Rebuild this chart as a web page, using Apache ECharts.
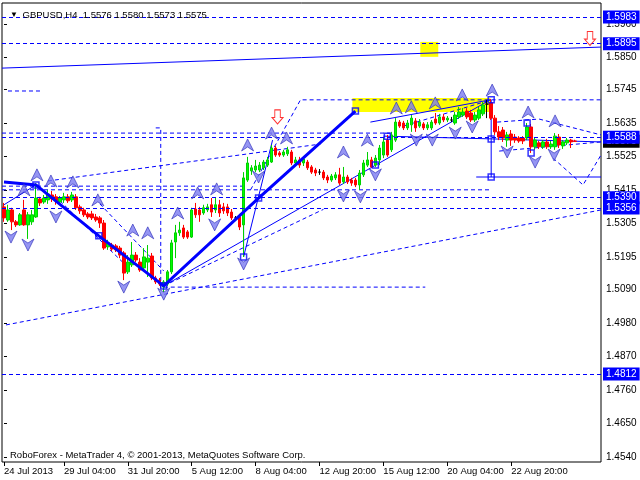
<!DOCTYPE html>
<html><head><meta charset="utf-8">
<script src="https://cdn.jsdelivr.net/npm/echarts@6/dist/echarts.min.js"></script>
<style>html,body{margin:0;padding:0;background:#fff}#c{width:640px;height:480px}</style>
</head><body><div id="c"></div>
<script>
const symbolName = 'GBPUSD,H4';
const lastQuote = ['1.5576', '1.5580', '1.5573', '1.5575'];
const footerText = 'RoboForex - MetaTrader 4, © 2001-2013, MetaQuotes Software Corp.';
const slotCount = 150;
// [open, close, low, high]
const candles = [
[1.5360,1.5324,1.5311,1.5373],[1.5317,1.5350,1.5311,1.5367],[1.5350,1.5311,1.5284,1.5357],[1.5311,1.5301,1.5294,1.5317],
[1.5301,1.5334,1.5298,1.5340],[1.5350,1.5301,1.5298,1.5383],[1.5301,1.5334,1.5255,1.5343],[1.5311,1.5334,1.5301,1.5350],
[1.5327,1.5389,1.5324,1.5438],[1.5386,1.5373,1.5363,1.5393],[1.5376,1.5389,1.5370,1.5399],[1.5383,1.5402,1.5370,1.5416],
[1.5399,1.5386,1.5376,1.5412],[1.5393,1.5380,1.5367,1.5402],[1.5376,1.5389,1.5370,1.5396],[1.5383,1.5393,1.5373,1.5406],
[1.5393,1.5380,1.5373,1.5402],[1.5383,1.5399,1.5376,1.5409],[1.5393,1.5357,1.5350,1.5402],[1.5360,1.5347,1.5337,1.5367],
[1.5350,1.5334,1.5327,1.5357],[1.5337,1.5327,1.5320,1.5343],[1.5337,1.5324,1.5317,1.5347],[1.5327,1.5317,1.5311,1.5337],
[1.5324,1.5307,1.5291,1.5330],[1.5307,1.5225,1.5219,1.5317],[1.5229,1.5242,1.5219,1.5252],[1.5235,1.5222,1.5215,1.5242],
[1.5232,1.5219,1.5212,1.5238],[1.5225,1.5202,1.5192,1.5232],[1.5209,1.5143,1.5120,1.5215],[1.5147,1.5179,1.5140,1.5202],
[1.5170,1.5202,1.5163,1.5245],[1.5202,1.5186,1.5179,1.5212],[1.5179,1.5153,1.5147,1.5192],[1.5160,1.5196,1.5153,1.5225],
[1.5179,1.5192,1.5130,1.5235],[1.5199,1.5127,1.5120,1.5209],[1.5127,1.5114,1.5107,1.5134],[1.5120,1.5107,1.5101,1.5127],
[1.5097,1.5114,1.5081,1.5120],[1.5107,1.5147,1.5101,1.5153],[1.5147,1.5242,1.5140,1.5252],[1.5245,1.5275,1.5192,1.5301],
[1.5275,1.5284,1.5265,1.5311],[1.5291,1.5261,1.5255,1.5301],[1.5278,1.5261,1.5255,1.5284],[1.5261,1.5350,1.5258,1.5357],
[1.5353,1.5334,1.5324,1.5373],[1.5350,1.5334,1.5311,1.5360],[1.5340,1.5357,1.5334,1.5367],[1.5350,1.5360,1.5343,1.5370],
[1.5367,1.5343,1.5327,1.5389],[1.5350,1.5367,1.5340,1.5389],[1.5367,1.5340,1.5327,1.5383],[1.5360,1.5347,1.5337,1.5373],
[1.5360,1.5340,1.5330,1.5370],[1.5343,1.5324,1.5317,1.5353],[1.5324,1.5324,1.5317,1.5330],[1.5327,1.5294,1.5284,1.5337],
[1.5301,1.5455,1.5196,1.5474],[1.5448,1.5504,1.5442,1.5524],[1.5478,1.5488,1.5465,1.5497],[1.5481,1.5494,1.5474,1.5514],
[1.5481,1.5497,1.5474,1.5507],[1.5488,1.5507,1.5481,1.5514],[1.5497,1.5514,1.5491,1.5524],[1.5507,1.5553,1.5504,1.5563],
[1.5553,1.5530,1.5524,1.5560],[1.5537,1.5530,1.5524,1.5543],[1.5530,1.5540,1.5524,1.5547],[1.5534,1.5547,1.5527,1.5557],
[1.5540,1.5504,1.5497,1.5547],[1.5504,1.5514,1.5497,1.5524],[1.5514,1.5497,1.5488,1.5524],[1.5504,1.5517,1.5494,1.5527],
[1.5507,1.5488,1.5481,1.5514],[1.5491,1.5474,1.5468,1.5497],[1.5481,1.5471,1.5461,1.5488],[1.5474,1.5474,1.5465,1.5484],
[1.5474,1.5455,1.5448,1.5481],[1.5458,1.5448,1.5438,1.5465],[1.5448,1.5461,1.5442,1.5468],[1.5455,1.5465,1.5448,1.5474],
[1.5465,1.5438,1.5432,1.5488],[1.5442,1.5458,1.5435,1.5491],[1.5458,1.5442,1.5435,1.5465],[1.5448,1.5438,1.5429,1.5455],
[1.5448,1.5432,1.5425,1.5455],[1.5432,1.5471,1.5416,1.5481],[1.5465,1.5504,1.5458,1.5514],[1.5497,1.5514,1.5491,1.5540],
[1.5514,1.5491,1.5488,1.5524],[1.5497,1.5520,1.5491,1.5530],[1.5514,1.5553,1.5497,1.5563],[1.5530,1.5573,1.5520,1.5586],
[1.5579,1.5530,1.5524,1.5596],[1.5547,1.5596,1.5540,1.5606],[1.5579,1.5638,1.5573,1.5651],[1.5638,1.5625,1.5619,1.5645],
[1.5635,1.5619,1.5612,1.5642],[1.5619,1.5635,1.5612,1.5645],[1.5629,1.5651,1.5606,1.5661],[1.5642,1.5619,1.5606,1.5651],
[1.5625,1.5638,1.5619,1.5648],[1.5632,1.5619,1.5612,1.5638],[1.5619,1.5629,1.5612,1.5638],[1.5619,1.5638,1.5612,1.5645],
[1.5648,1.5635,1.5629,1.5668],[1.5635,1.5655,1.5629,1.5665],[1.5655,1.5645,1.5638,1.5665],[1.5645,1.5651,1.5638,1.5658],
[1.5645,1.5645,1.5638,1.5655],[1.5635,1.5661,1.5629,1.5671],[1.5655,1.5671,1.5648,1.5688],[1.5661,1.5671,1.5655,1.5684],
[1.5674,1.5655,1.5648,1.5684],[1.5668,1.5645,1.5638,1.5678],[1.5645,1.5661,1.5638,1.5671],[1.5651,1.5678,1.5645,1.5688],
[1.5665,1.5694,1.5658,1.5704],[1.5697,1.5697,1.5651,1.5711],[1.5701,1.5651,1.5645,1.5714],[1.5651,1.5606,1.5596,1.5661],
[1.5606,1.5589,1.5579,1.5625],[1.5612,1.5586,1.5573,1.5622],[1.5579,1.5596,1.5557,1.5606],[1.5599,1.5579,1.5560,1.5612],
[1.5589,1.5579,1.5570,1.5599],[1.5586,1.5576,1.5570,1.5592],[1.5586,1.5576,1.5566,1.5592],[1.5586,1.5622,1.5579,1.5635],
[1.5622,1.5557,1.5537,1.5632],[1.5557,1.5579,1.5547,1.5589],[1.5570,1.5557,1.5550,1.5576],[1.5557,1.5573,1.5550,1.5579],
[1.5573,1.5557,1.5550,1.5583],[1.5557,1.5566,1.5550,1.5576],[1.5557,1.5592,1.5547,1.5602],[1.5589,1.5563,1.5553,1.5599],
[1.5560,1.5573,1.5550,1.5579],[1.5570,1.5579,1.5563,1.5586],[1.5579,1.5573,1.5553,1.5583],[1.5576,1.5575,1.5573,1.5580]
];
const xTickLabels = [[0,'24 Jul 2013'],[15,'29 Jul 04:00'],[31,'31 Jul 20:00'],[47,'5 Aug 12:00'],[63,'8 Aug 04:00'],
  [79,'12 Aug 20:00'],[95,'15 Aug 12:00'],[111,'20 Aug 04:00'],[127,'22 Aug 20:00']];
const yTickValues = [1.5960,1.5850,1.5745,1.5635,1.5525,1.5415,1.5305,1.5195,1.5090,1.4980,1.4870,1.4760,1.4650,1.4540];
const yMin = 1.45236, yMax = 1.60285;
const priceLevels = [1.5983, 1.5895, 1.5588, 1.5390, 1.5356, 1.4812];
const currentPrice = 1.5575;
// drawn objects, [barIndex, price]
const waveThick = [[0,1.5442],[8,1.5432],[23.75,1.5265],[40,1.5101],[63.75,1.5389],[88,1.5674]];
const thinLines = [
  [[0,1.5367],[8,1.5432]],
  [[40,1.5101],[121.75,1.5711]],
  [[60,1.5448],[60,1.5196],[67.25,1.5579]],
  [[122,1.5711],[122,1.5458]],
  [[118.25,1.5458],[149.5,1.5458]],
  [[-0.5,1.5815],[149.5,1.5884]],
  [[91.75,1.5638],[121.75,1.5711]],
  [[95,1.5592],[122,1.5583],[149.5,1.5573]]
];
const dashedLines = [
  [[0.5,1.4973],[149.5,1.5350]],
  [[40,1.5097],[105.5,1.5097]],
  [[61.75,1.5416],[74.25,1.5711],[149.5,1.5711]],
  [[-0.5,1.5602],[96.75,1.5602]],
  [[-0.5,1.5416],[121.75,1.5416]],
  [[-0.5,1.5428],[60,1.5428]],
  [[1,1.5740],[9.25,1.5740]],
  [[11,1.5445],[79.25,1.5566]],
  [[38,1.5619],[39.25,1.5619],[39.25,1.5094]],
  [[14,1.5380],[30,1.5175]],
  [[24,1.5370],[40,1.5150]],
  [[40,1.5101],[80,1.5352]],
  [[123.5,1.5638],[134,1.5648],[149.5,1.5596]],
  [[124,1.5543],[149.5,1.5573]],
  [[137.5,1.5520],[145,1.5432],[149.5,1.5530]],
  [[100,1.5625],[122,1.5711]]
];
const upFractals = [[5,1.5416],[8.25,1.5465],[11.75,1.5445],[17.25,1.5442],[23.5,1.5383],[32.25,1.5284],[36,1.5275],
  [43.5,1.5340],[48.5,1.5406],[53.25,1.5419],[61,1.5563],[67,1.5602],[70.75,1.5586],[85,1.5540],[91,1.5579],
  [98.25,1.5684],[102,1.5688],[108,1.5701],[114.75,1.5727],[122.25,1.5743],[131.25,1.5671],[138,1.5642]];
const downFractals = [[1.75,1.5261],[6,1.5235],[13,1.5327],[30,1.5097],[40,1.5074],[52.75,1.5301],[60,1.5173],
  [63.75,1.5458],[85,1.5396],[89.25,1.5393],[93,1.5465],[103.25,1.5579],[107.25,1.5579],[113,1.5602],[117.25,1.5622],
  [126,1.5540],[133,1.5507],[137.75,1.5530]];
const squareMarks = [[8,1.5432],[23.75,1.5265],[40,1.5101],[63.75,1.5389],[88,1.5674],[122,1.5711],[122,1.5583],
  [122,1.5458],[60,1.5196],[96,1.5592],[93,1.5497],[131,1.5635],[132,1.5537]];
const yellowZones = [[[87.25,1.5717],[121.75,1.5671]], [[104.25,1.5901],[108.75,1.5852]]];
const signalArrows = [[68.5,1.5655],[146.75,1.5912]];

const FONT = 'Liberation Sans';
const BLUE = '#0000ff';
const labelMap = new Map(xTickLabels);
const categories = Array.from({length: slotCount}, (_, i) => String(i));
const candleData = candles.map(c => {
  if (c[0] === c[1]) return {value: c, itemStyle: {color: '#000', color0: '#000', borderColor: '#000', borderColor0: '#000'}};
  return c;
});
const upPath = 'path://M6,0 L12,12 L6,8 L0,12 Z';
const downPath = 'path://M0,0 L6,4 L12,0 L6,12 Z';
const arrowPath = 'path://M3,0 L9,0 L9,7 L12,7 L6,13 L0,7 L3,7 Z';

const chart = echarts.init(document.getElementById('c'), null, {renderer: 'canvas'});
chart.setOption({
  animation: false,
  backgroundColor: '#fff',
  title: [
    {text: '{t|▼} ' + symbolName + '  ' + lastQuote.join(' '), left: 5, top: 5,
     textStyle: {fontFamily: FONT, fontSize: 9.5, fontWeight: 'normal', color: '#000',
       rich: {t: {fontSize: 8, color: '#000', padding: [0, 2, 0, 0]}}}},
    {text: footerText, left: 5, top: 445, textStyle: {fontFamily: FONT, fontSize: 9.5, fontWeight: 'normal', color: '#000'}}
  ],
  grid: {left: 2, right: 39, top: 3, bottom: 18, show: true, borderColor: '#000', borderWidth: 1, backgroundColor: 'transparent'},
  xAxis: [
    {type: 'category', data: categories, boundaryGap: true,
     axisLine: {show: false},
     axisTick: {show: true, alignWithLabel: true, length: 4, interval: (i) => labelMap.has(i), lineStyle: {color: '#000'}},
     axisLabel: {interval: (i) => labelMap.has(i), formatter: (v, i) => labelMap.get(i) || '', align: 'left',
       margin: 4, color: '#000', fontFamily: FONT, fontSize: 9.5},
     splitLine: {show: false}},
    {type: 'value', min: -0.5, max: slotCount - 0.5, show: false}
  ],
  yAxis: [{type: 'value', position: 'right', min: yMin, max: yMax, scale: true,
    axisLine: {show: false}, splitLine: {show: false},
    axisTick: {show: true, length: 3, customValues: yTickValues, lineStyle: {color: '#000'}},
    axisLabel: {customValues: yTickValues, formatter: v => v.toFixed(4), color: '#000', fontFamily: FONT, fontSize: 10, margin: 5}}],
  series: [
    {type: 'line', xAxisIndex: 1, yAxisIndex: 0, data: [], z: 1, silent: true,
     markArea: {silent: true, itemStyle: {color: '#ffff00', opacity: 1},
       data: yellowZones.map(z => [{coord: z[0]}, {coord: z[1]}])}},
    {type: 'lines', coordinateSystem: 'cartesian2d', xAxisIndex: 1, yAxisIndex: 0, polyline: true, z: 3, silent: true,
     lineStyle: {color: BLUE, width: 1, type: [4, 3], opacity: 1},
     data: dashedLines.map(c => ({coords: c}))},
    {type: 'lines', coordinateSystem: 'cartesian2d', xAxisIndex: 1, yAxisIndex: 0, polyline: true, z: 3, silent: true,
     lineStyle: {color: BLUE, width: 1, opacity: 1},
     data: thinLines.map(c => ({coords: c}))},
    {type: 'candlestick', xAxisIndex: 0, yAxisIndex: 0, barWidth: 3, z: 4, data: candleData,
     itemStyle: {color: '#00ff00', color0: '#ff0000', borderColor: '#00d000', borderColor0: '#ff0000', borderWidth: 1},
     markLine: {silent: true, symbol: 'none', animation: false, precision: 4,
       lineStyle: {color: BLUE, width: 1, type: [4, 3]},
       label: {position: 'end', distance: 2, color: '#fff', backgroundColor: BLUE, padding: [2, 3, 1, 3],
         fontFamily: FONT, fontSize: 10, formatter: p => Number(p.value).toFixed(4)},
       data: [{yAxis: currentPrice, lineStyle: {color: 'rgba(0,0,0,0)'}, label: {backgroundColor: '#000', color: '#fff'}}]
         .concat(priceLevels.map(v => ({yAxis: v})))}},
    {type: 'lines', coordinateSystem: 'cartesian2d', xAxisIndex: 1, yAxisIndex: 0, polyline: true, z: 5, silent: true,
     lineStyle: {color: BLUE, width: 3, opacity: 1},
     data: [{coords: waveThick}]},
    {type: 'scatter', xAxisIndex: 1, yAxisIndex: 0, z: 6, symbol: 'rect', symbolSize: 6, data: squareMarks,
     itemStyle: {color: 'rgba(255,255,255,0)', borderColor: BLUE, borderWidth: 1.5}},
    {type: 'scatter', xAxisIndex: 1, yAxisIndex: 0, z: 6, symbol: upPath, symbolSize: [12, 12], data: upFractals,
     itemStyle: {color: '#7a7af0', borderColor: '#2a2ab8', borderWidth: 0.8}},
    {type: 'scatter', xAxisIndex: 1, yAxisIndex: 0, z: 6, symbol: downPath, symbolSize: [12, 12], data: downFractals,
     itemStyle: {color: '#7a7af0', borderColor: '#2a2ab8', borderWidth: 0.8}},
    {type: 'scatter', xAxisIndex: 1, yAxisIndex: 0, z: 6, symbol: arrowPath, symbolSize: [11, 14], data: signalArrows,
     itemStyle: {color: '#fff', borderColor: '#ff0000', borderWidth: 1}}
  ]
});
</script></body></html>
